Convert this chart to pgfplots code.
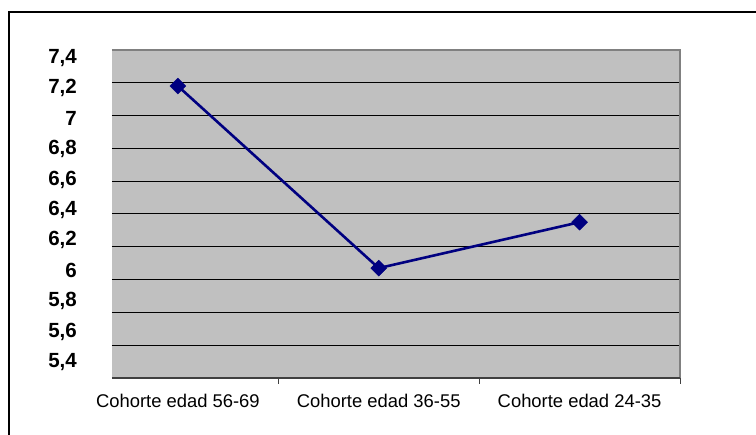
\documentclass[border=0pt]{standalone}
\usepackage{pgfplots}
\pgfplotsset{compat=1.18}
\usepackage{fontspec}
\setmainfont{Liberation Sans}
\definecolor{plotbg}{HTML}{C0C0C0}
\definecolor{navy}{HTML}{000080}
\definecolor{borderg}{HTML}{808080}
\definecolor{axisdark}{HTML}{404040}

\begin{document}
\begin{tikzpicture}[x=1pt,y=1pt]
  \useasboundingbox (0,0) rectangle (756,435);
  % outer frame (right and bottom edges fall outside the picture)
  \draw[black, line width=1.2pt] (9,0) -- (9,423) -- (756,423);

  \begin{axis}[
    at={(112pt,57pt)}, anchor=south west,
    scale only axis,
    width=568pt, height=328pt,
    xmin=-0.328, xmax=2.5,
    ymin=5.4, ymax=7.4,
    axis background/.style={fill=plotbg},
    axis line style={draw=none},
    xtick pos=left, ytick pos=left,
    % category labels
    xtick={0,1,2},
    xticklabels={Cohorte edad 56-69, Cohorte edad 36-55, Cohorte edad 24-35},
    major tick length=0pt,
    xticklabel style={font=\fontsize{18.4}{21}\selectfont, anchor=north, inner sep=0pt, yshift=-16pt},
    extra x ticks={0.5,1.5,2.5},
    extra x tick labels={},
    extra x tick style={major tick length=6pt, tick align=outside, tick style={axisdark, line width=1pt}},
    % y labels as drawn in the reference
    ytick={7.3512,7.1659,6.9805,6.7951,6.6098,6.4244,6.2390,6.0537,5.8683,5.6829,5.4976},
    yticklabels={{7,4},{7,2},{7},{6,8},{6,6},{6,4},{6,2},{6},{5,8},{5,6},{5,4}},
    yticklabel style={font=\fontsize{20.5}{23}\bfseries\selectfont, anchor=east, inner sep=0pt, xshift=-35pt},
    extra y ticks={5.6,5.8,6,6.2,6.4,6.6,6.8,7,7.2},
    extra y tick labels={},
    extra y tick style={grid=major, major grid style={black, line width=1pt}},
    clip=false,
  ]
    \draw[borderg, line width=2pt] (rel axis cs:0,1) -- (rel axis cs:1,1) -- (rel axis cs:1,0);
    \draw[axisdark, line width=2pt] (rel axis cs:0,0) -- (rel axis cs:1,0);
    \addplot[navy, line width=2.6pt, mark=square*, mark size=5.6pt,
      mark options={rotate=45, fill=navy, draw=navy, line width=0.5pt}]
      coordinates {(0,7.18) (1,6.07) (2,6.35)};
  \end{axis}
\end{tikzpicture}
\end{document}
